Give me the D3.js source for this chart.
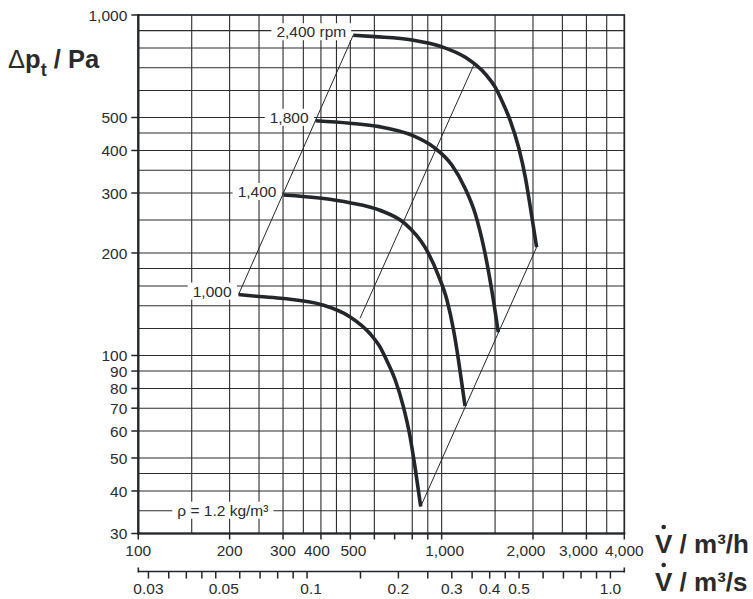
<!DOCTYPE html>
<html>
<head>
<meta charset="utf-8">
<script src="https://cdn.jsdelivr.net/npm/d3@7"></script>
<style>
  body { margin: 0; background: #fff; }
  text { font-family: "Liberation Sans", Arial, sans-serif; fill: #2b2b2b; }
</style>
</head>
<body>
<svg id="chart" width="753" height="599"></svg>
<script>

// axis ticks and grid
var xLabels = [100, 200, 300, 400, 500, 1000, 2000, 3000, 4000];
var xTickMarks = [100, 200, 300, 400, 500, 600, 700, 800, 900, 1000, 2000, 3000, 4000];
var xGrid = [150, 200, 250, 300, 350, 400, 450, 500, 600, 800, 900, 1000, 1500, 2000, 2500, 3000, 3500];
var yLabels = [1000, 500, 400, 300, 200, 100, 90, 80, 70, 60, 50, 40, 30];
var yGrid = [900, 800, 700, 600, 500, 450, 400, 350, 300, 250, 200, 180, 160, 140, 120, 100, 90, 80, 70, 60, 50, 45, 40, 35];
var sTicks = [0.03, 0.035, 0.04, 0.045, 0.05, 0.06, 0.07, 0.08, 0.09, 0.1, 0.15, 0.2, 0.25, 0.3, 0.35, 0.4, 0.45, 0.5, 0.6, 0.7, 0.8, 0.9, 1.0];
var sLabels = [0.03, 0.05, 0.1, 0.2, 0.3, 0.4, 0.5, 1.0];

// fan curves (V in m3/h, dp in Pa)
var speedNames = ["1,000", "1,400", "1,800", "2,400 rpm"];
var curve1000 = [[214, 151], [250, 149], [301, 147], [402, 141], [498, 130], [580, 116], [626, 106], [658, 97], [702, 85], [747, 71], [786, 58], [817, 47], [853, 36]];
var curve1400 = [[301, 296], [402, 289.5], [498, 281], [626, 267], [757, 244], [881, 208], [975, 172], [1041, 145.5], [1094, 119], [1136, 97], [1167, 82], [1194, 71]];
var curve1800 = [[384, 489], [498, 481], [623, 470], [800, 443], [938, 410], [1079, 363], [1194, 310], [1288, 262], [1389, 200], [1462, 156], [1537, 117]];
var curve2400 = [[511, 872], [603, 864], [800, 845], [1000, 807], [1197, 751], [1393, 671], [1503, 613], [1579, 560], [1684, 489], [1794, 408], [1888, 333], [1961, 272], [2056, 208]];

// system lines
var sysLeft = [[214, 151], [511, 872]];
var sysMid = [[538, 128.6], [1275, 712]];
var sysRight = [[853, 36], [2056, 208]];

var curves = [curve1000, curve1400, curve1800, curve2400];

var svg = d3.select("#chart");

var plotLeft = 138.3, plotRight = 624.3, plotTop = 15, plotBottom = 533.5;
var axis2Y = 571.5;

var x = d3.scaleLog().domain([100, 4000]).range([plotLeft, plotRight]);
var y = d3.scaleLog().domain([30, 1000]).range([plotBottom, plotTop]);
var xs = d3.scaleLog().domain([100 / 3600, 4000 / 3600]).range([plotLeft, plotRight]);

// small shifts of crowded labels, in pixels
var xLabelShift = { 400: -4, 500: 3, 1000: 3, 2000: -7, 3000: -8 };
var sLabelShift = { 0.05: 8, 0.1: 4 };

var fmt = d3.format(",");
var ink = "#23262b";

// grid
svg.append("g").selectAll("line").data(xGrid).join("line")
  .attr("x1", d => x(d)).attr("x2", d => x(d))
  .attr("y1", plotTop).attr("y2", plotBottom)
  .attr("stroke", "#2c2c2c").attr("stroke-width", 1.1);

svg.append("g").selectAll("line").data(yGrid).join("line")
  .attr("x1", plotLeft).attr("x2", plotRight)
  .attr("y1", d => y(d)).attr("y2", d => y(d))
  .attr("stroke", "#2c2c2c").attr("stroke-width", 1.1);

// frame
svg.append("rect")
  .attr("x", plotLeft).attr("y", plotTop)
  .attr("width", plotRight - plotLeft).attr("height", plotBottom - plotTop)
  .attr("fill", "none").attr("stroke", ink).attr("stroke-width", 1.7);
svg.append("line").attr("x1", plotLeft).attr("x2", plotLeft).attr("y1", plotTop - 1).attr("y2", plotBottom + 1)
  .attr("stroke", ink).attr("stroke-width", 2.2);
svg.append("line").attr("x1", plotLeft - 1).attr("x2", plotRight + 1).attr("y1", plotBottom).attr("y2", plotBottom)
  .attr("stroke", ink).attr("stroke-width", 2.2);

// y ticks and labels
svg.append("g").selectAll("line").data(yLabels).join("line")
  .attr("x1", plotLeft - 7).attr("x2", plotLeft)
  .attr("y1", d => y(d)).attr("y2", d => y(d))
  .attr("stroke", ink).attr("stroke-width", 1.5);

svg.append("g").selectAll("text").data(yLabels).join("text")
  .attr("x", plotLeft - 11).attr("y", d => y(d))
  .attr("dy", "0.36em").attr("text-anchor", "end")
  .attr("font-size", 15.5)
  .text(d => fmt(d));

// x ticks and labels (m3/h)
svg.append("g").selectAll("line").data(xTickMarks).join("line")
  .attr("x1", d => x(d)).attr("x2", d => x(d))
  .attr("y1", plotBottom).attr("y2", plotBottom + 6)
  .attr("stroke", ink).attr("stroke-width", 1.5);

svg.append("g").selectAll("text").data(xLabels).join("text")
  .attr("x", d => x(d) + (xLabelShift[d] || 0)).attr("y", plotBottom + 22)
  .attr("text-anchor", "middle")
  .attr("font-size", 15.5)
  .text(d => fmt(d));

// second axis (m3/s)
svg.append("line").attr("x1", plotLeft).attr("x2", plotRight).attr("y1", axis2Y).attr("y2", axis2Y)
  .attr("stroke", ink).attr("stroke-width", 1.6);
svg.append("g").selectAll("line").data([plotLeft, plotRight]).join("line")
  .attr("x1", d => d).attr("x2", d => d)
  .attr("y1", axis2Y - 4).attr("y2", axis2Y + 1)
  .attr("stroke", ink).attr("stroke-width", 1.6);
svg.append("g").selectAll("line").data(sTicks).join("line")
  .attr("x1", d => xs(d)).attr("x2", d => xs(d))
  .attr("y1", axis2Y).attr("y2", axis2Y + 7)
  .attr("stroke", ink).attr("stroke-width", 1.5);
svg.append("g").selectAll("text").data(sLabels).join("text")
  .attr("x", d => xs(d) + (sLabelShift[d] || 0)).attr("y", axis2Y + 22)
  .attr("text-anchor", "middle")
  .attr("font-size", 15.5)
  .text(d => d === 1 ? "1.0" : String(d));

// label with white box behind it
function boxedLabel(tx, ty, str, anchor) {
  var g = svg.append("g");
  var r = g.append("rect").attr("fill", "#fff");
  var t = g.append("text")
    .attr("x", tx).attr("y", ty)
    .attr("text-anchor", anchor)
    .attr("font-size", 15.5)
    .text(str);
  var b = t.node().getBBox();
  r.attr("x", b.x - 5).attr("y", b.y).attr("width", b.width + 10).attr("height", b.height);
}

// speed labels
curves.forEach(function (c, i) {
  boxedLabel(x(c[0][0]) - 7, y(c[0][1]) + 2, speedNames[i], "end");
});

// density note
boxedLabel(plotLeft + 39, y(35) + 5, "\u03C1 = 1.2 kg/m\u00B3", "start");

// system lines
var line = d3.line().x(d => x(d[0])).y(d => y(d[1]));
[sysLeft, sysMid, sysRight].forEach(function (s) {
  svg.append("path")
    .attr("d", line(s))
    .attr("fill", "none")
    .attr("stroke", ink)
    .attr("stroke-width", 1);
});

// fan curves
var smooth = d3.line().x(d => x(d[0])).y(d => y(d[1])).curve(d3.curveMonotoneX);
curves.forEach(function (c) {
  svg.append("path")
    .attr("d", smooth(c))
    .attr("fill", "none")
    .attr("stroke", ink)
    .attr("stroke-width", 3.6);
});

// y title
var yt = svg.append("text")
  .attr("x", 8).attr("y", 68)
  .attr("font-size", 25.5).attr("font-weight", "bold");
yt.append("tspan").attr("font-weight", "normal").text("\u0394");
yt.append("tspan").text("p");
yt.append("tspan").attr("font-size", 18).attr("dy", 8).text("t");
yt.append("tspan").attr("dy", -8).text(" / Pa");

// x titles with flow dot
function flowTitle(tx, ty, str) {
  svg.append("text")
    .attr("x", tx).attr("y", ty)
    .attr("font-size", 26).attr("font-weight", "bold")
    .text(str);
  svg.append("circle")
    .attr("cx", tx + 8.7).attr("cy", ty - 26)
    .attr("r", 2.3)
    .attr("fill", "#2b2b2b");
}
flowTitle(655, 553, "V / m\u00B3/h");
flowTitle(655, 591, "V / m\u00B3/s");

</script>
</body>
</html>
